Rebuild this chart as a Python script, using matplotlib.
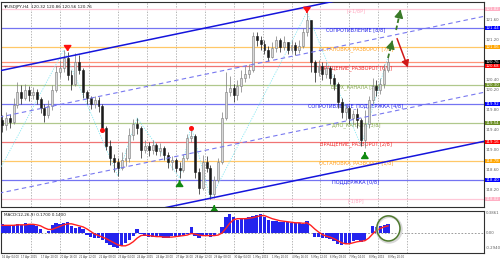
import matplotlib
matplotlib.use('Agg')
import matplotlib.pyplot as plt
from matplotlib.patches import Rectangle, Ellipse
import matplotlib.transforms as mtransforms
import numpy as np

plt.rcParams['font.family'] = ['Liberation Sans Narrow', 'DejaVu Sans']

# ---- data (H4 bars) ----
title_text = '\u25bcUSDJPY,H4  120.32 120.86 120.56 120.76'
macd_text = 'MACD(12,26,9) 0.1700 0.1400'

open0 = 119.60
closes = [119.50, 119.64, 119.56, 119.90, 120.16, 120.04, 120.20, 120.10, 120.16, 120.02,
          119.84, 119.70, 119.88, 120.20, 120.56, 120.64, 120.84, 120.50, 120.32, 120.76,
          120.60, 120.16, 120.04, 119.92, 120.00, 119.88, 119.44, 119.08, 118.84, 118.76,
          118.64, 118.80, 118.84, 119.30, 119.52, 119.44, 119.00, 119.08, 119.00, 119.10,
          118.98, 119.04, 118.90, 118.76, 118.80, 118.64, 118.60, 118.84, 119.24, 119.28,
          118.56, 118.24, 118.76, 118.64, 118.12, 118.40, 118.76, 119.64, 120.16, 120.24,
          120.10, 120.28, 120.44, 120.52, 120.60, 121.28, 121.20, 121.12, 121.00, 120.86,
          121.04, 121.20, 121.06, 121.16, 121.00, 121.10, 121.00, 121.08, 121.36, 121.60,
          120.76, 120.56, 120.68, 120.52, 120.64, 120.44, 120.32, 119.96, 119.76, 119.84,
          119.64, 119.72, 119.60, 119.20, 119.52, 120.00, 120.28, 120.20, 120.32, 120.60,
          120.76]
highs = [119.70, 119.76, 119.72, 120.04, 120.36, 120.30, 120.32, 120.28, 120.26, 120.22,
         120.06, 119.92, 120.00, 120.30, 120.68, 120.80, 121.00, 120.96, 120.60, 120.94,
         120.90, 120.64, 120.20, 120.08, 120.08, 120.06, 119.92, 119.48, 119.20, 118.92,
         118.84, 118.96, 119.04, 119.44, 119.62, 119.64, 119.48, 119.20, 119.16, 119.20,
         119.14, 119.14, 119.08, 118.96, 118.88, 118.84, 118.76, 118.92, 119.32, 119.48,
         119.32, 118.64, 118.90, 118.88, 118.70, 118.48, 118.84, 119.76, 120.56, 120.48,
         120.32, 120.40, 120.60, 120.68, 120.72, 121.36, 121.36, 121.28, 121.20, 121.08,
         121.16, 121.28, 121.24, 121.28, 121.16, 121.20, 121.16, 121.20, 121.44, 121.76,
         121.60, 120.80, 120.80, 120.76, 120.76, 120.68, 120.52, 120.36, 120.04, 119.92,
         119.88, 119.80, 119.84, 119.64, 119.80, 120.08, 120.44, 120.40, 120.44, 120.72,
         120.86]
lows = [119.36, 119.40, 119.44, 119.52, 119.84, 119.92, 120.00, 119.98, 120.02, 119.92,
        119.74, 119.56, 119.64, 119.80, 120.16, 120.44, 120.56, 120.40, 120.20, 120.28,
        120.52, 120.04, 119.92, 119.82, 119.84, 119.76, 119.36, 119.00, 118.70, 118.56,
        118.48, 118.60, 118.68, 118.76, 119.20, 119.32, 118.84, 118.94, 118.88, 118.92,
        118.90, 118.88, 118.80, 118.64, 118.60, 118.56, 118.44, 118.56, 118.80, 119.16,
        118.44, 118.12, 118.20, 118.56, 118.02, 118.04, 118.36, 118.72, 119.60, 120.08,
        119.96, 120.00, 120.16, 120.36, 120.44, 120.56, 121.08, 121.00, 120.92, 120.78,
        120.84, 120.96, 120.96, 121.00, 120.92, 120.94, 120.90, 120.94, 121.04, 121.28,
        120.56, 120.36, 120.48, 120.40, 120.44, 120.32, 120.20, 119.84, 119.64, 119.60,
        119.52, 119.52, 119.44, 119.08, 119.04, 119.44, 119.92, 120.08, 120.12, 120.24,
        120.56]

macd_main = [0.17, 0.15, 0.13, 0.15, 0.17, 0.15, 0.19, 0.17, 0.15, 0.13,
             0.07, 0.01, 0.03, 0.15, 0.19, 0.17, 0.19, 0.21, 0.13, 0.09,
             0.11, 0.07, -0.03, -0.07, -0.09, -0.09, -0.13, -0.19, -0.23, -0.27,
             -0.29, -0.25, -0.19, -0.13, -0.05, 0.07, -0.01, -0.05, -0.07, -0.07,
             -0.07, -0.07, -0.09, -0.09, -0.05, -0.05, -0.05, -0.03, -0.01, 0.11,
             -0.05, -0.09, -0.05, -0.03, -0.07, -0.05, 0.01, 0.11, 0.31, 0.37,
             0.31, 0.25, 0.27, 0.27, 0.31, 0.33, 0.35, 0.37, 0.31, 0.25,
             0.23, 0.23, 0.21, 0.21, 0.21, 0.19, 0.19, 0.19, 0.17, 0.23,
             0.01, -0.07, -0.07, -0.09, -0.09, -0.11, -0.15, -0.21, -0.23, -0.21,
             -0.19, -0.15, -0.13, -0.17, -0.13, 0.01, 0.13, 0.11, 0.13, 0.15,
             0.17]
macd_signal = [0.15, 0.15, 0.15, 0.15, 0.16, 0.16, 0.16, 0.17, 0.17, 0.16,
               0.14, 0.10, 0.07, 0.07, 0.10, 0.13, 0.16, 0.18, 0.18, 0.16,
               0.14, 0.12, 0.08, 0.03, -0.02, -0.05, -0.08, -0.11, -0.15, -0.19,
               -0.23, -0.25, -0.25, -0.22, -0.17, -0.10, -0.05, -0.04, -0.05, -0.06,
               -0.07, -0.07, -0.08, -0.08, -0.08, -0.07, -0.06, -0.05, -0.04, -0.01,
               -0.02, -0.04, -0.05, -0.05, -0.05, -0.05, -0.04, 0.00, 0.09, 0.19,
               0.26, 0.28, 0.28, 0.28, 0.29, 0.30, 0.32, 0.34, 0.34, 0.31,
               0.28, 0.26, 0.24, 0.23, 0.22, 0.21, 0.20, 0.20, 0.19, 0.20,
               0.15, 0.08, 0.02, -0.03, -0.06, -0.08, -0.11, -0.15, -0.19, -0.21,
               -0.21, -0.19, -0.17, -0.16, -0.15, -0.10, -0.02, 0.05, 0.09, 0.12,
               0.14]

# Murrey math levels
murrey_names = ['[-1/8P]', 'ПОДДЕРЖКА [0/8]', 'ОСТАНОВКА_РАЗВОРОТ [1/8]', 'ВРАЩЕНИЕ_РАЗВОРОТ [2/8]',
                'ДНО_КАНАЛА [3/8]', 'СОПРОТИВЛЕНИЕ_ПОДДЕРЖКА [4/8]', 'ВЕРХ_КАНАЛА [5/8]',
                'ВРАЩЕНИЕ_РАЗВОРОТ [6/8]', 'ОСТАНОВКА_РАЗВОРОТ [7/8]', 'СОПРОТИВЛЕНИЕ [8/8]', '[+1/8P]']
murrey_prices = [118.02, 118.40, 118.78, 119.16, 119.54, 119.92, 120.30, 120.68, 121.06, 121.44, 121.82]
bid_price = 120.76

# channel lines: (bar, price) at both ends
channel_solid = [((0, 120.594), (100, 122.200)), ((0, 117.168), (100, 118.774))]
channel_dashed = [((0, 119.668), (100, 121.274)), ((0, 118.148), (100, 119.754))]

# zigzag swing points
zz_bars = [-3, 16, 30, 35, 46, 49, 54, 79, 93, 100]
zz_prices = [118.26, 121.00, 118.48, 119.64, 118.44, 119.48, 118.02, 121.76, 119.08, 120.86]

# signal arrows (bar, tip price, tail price)
sell_arrows = [(17, 120.92, 121.06), (79, 121.74, 121.84)]
buy_arrows = [(46, 118.44, 118.32), (55, 117.94, 117.82), (94, 119.00, 118.88)]
dots = [(26, 119.40), (49, 119.44)]

# forecast arrows: start, end
green_fc = [((100.0, 120.84), (101.3, 121.24)), ((102.1, 121.40), (103.4, 121.86))]
red_fc = [((102.1, 121.28), (105.4, 120.60))]

price_ticks = [118.00, 118.20, 118.40, 118.60, 118.80, 119.00, 119.20, 119.40, 119.60, 119.80,
               120.00, 120.20, 120.40, 120.60, 120.80, 121.00, 121.20, 121.40, 121.60, 121.80]
date_bars = list(range(0, 101, 5))
date_labels = ['16 Apr 04:00', '17 Apr 2015', '17 Apr 20:00', '20 Apr 16:00', '21 Apr 12:00',
               '22 Apr 08:00', '23 Apr 04:00', '24 Apr 2015', '24 Apr 20:00', '27 Apr 16:00',
               '28 Apr 12:00', '29 Apr 08:00', '30 Apr 04:00', '1 May 2015', '1 May 20:00',
               '4 May 16:00', '5 May 12:00', '6 May 08:00', '7 May 04:00', '8 May 2015', '8 May 20:00']
grid_bars = [7.5 * k for k in range(1, 15)]

# ---- styles ----
line_cols = ['#ffc8d8', '#7474f2', '#ffc868', '#f07474', '#b0c88c', '#7474f2', '#b0c88c',
             '#f07474', '#ffc868', '#7474f2', '#ffc8d8']
text_cols = ['#ffa8c0', '#2020e8', '#ffa020', '#ee2a2a', '#88a850', '#2020e8', '#88a850',
             '#ee2a2a', '#ffa020', '#2020e8', '#ffa8c0']
box_cols = ['#ffb0c4', '#0000ff', '#ffa500', '#ff0000', '#6b8e23', '#0000ff', '#6b8e23',
            '#ff0000', '#ffa500', '#0000ff', '#ffb0c4']
lab_fs = 2.8

fig = plt.figure(figsize=(5.0, 2.59), dpi=100)
ax = fig.add_axes([1 / 500, 52 / 259, 483 / 500, 205 / 259])
axm = fig.add_axes([1 / 500, 6 / 259, 483 / 500, 42 / 259])

x0, x1 = -0.26, 124.87
for a in (ax, axm):
    a.set_xlim(x0, x1)
    a.set_xticks([])
    a.set_yticks([])
    for s in a.spines.values():
        s.set_linewidth(0.8)
        s.set_color('#303030')
    for g in grid_bars:
        a.axvline(g, color='#9a9a9a', lw=0.5, ls=(0, (2, 2)), zorder=1)
ax.set_ylim(117.86, 121.96)
axm.set_ylim(-0.39, 0.43)

# levels
for p, nm, lc, tc in zip(murrey_prices, murrey_names, line_cols, text_cols):
    ax.axhline(p, color=lc, lw=0.9, zorder=2)
    ax.text(91.7, p + 0.012, nm, color=tc, fontsize=3.6, ha='center', va='top', zorder=3)
ax.axhline(bid_price, color='#ff9478', lw=0.9, zorder=2)

# channel
xs = np.array([-2.0, 127.0])
for (b0, p0), (b1, p1) in channel_solid:
    ax.plot(xs, p0 + (p1 - p0) / (b1 - b0) * (xs - b0), color='#1414dc', lw=1.1, zorder=6)
for (b0, p0), (b1, p1) in channel_dashed:
    ax.plot(xs, p0 + (p1 - p0) / (b1 - b0) * (xs - b0), color='#7878f0', lw=0.8,
            ls=(0, (4, 3)), zorder=6)

# zigzag
ax.plot(zz_bars, zz_prices, color='#86e8f2', lw=0.6, ls=(0, (1.5, 1.5)), zorder=3)

# candles
opens = [open0] + closes[:-1]
for i in range(len(closes)):
    o, c = opens[i], closes[i]
    hi = max(highs[i], o, c)
    lo = min(lows[i], o, c)
    up = c >= o
    col = '#7a7a7a' if up else '#1a1a1a'
    ax.vlines(i, lo, hi, color=col, lw=0.5, zorder=4)
    ax.add_patch(Rectangle((i - 0.25, min(o, c)), 0.5, max(abs(c - o), 0.006),
                           facecolor='#d8d8d8' if up else '#1a1a1a', edgecolor=col, lw=0.4, zorder=5))

# signal arrows
for b, tip, tail in sell_arrows:
    ax.annotate('', xy=(b, tip), xytext=(b, tail),
                arrowprops=dict(arrowstyle='-|>,head_length=0.3,head_width=0.22', color='#ff1010', lw=1.2),
                zorder=8)
for b, tip, tail in buy_arrows:
    ax.annotate('', xy=(b, tip), xytext=(b, tail),
                arrowprops=dict(arrowstyle='-|>,head_length=0.3,head_width=0.22', color='#108a10', lw=1.2),
                zorder=8, annotation_clip=False)
ax.plot([d[0] for d in dots], [d[1] for d in dots], 'o', color='#ff1010', ms=2.6, zorder=8)

# forecast arrows
for (sb, sp), (eb, ep) in green_fc:
    ax.plot([sb, sb + 0.75 * (eb - sb)], [sp, sp + 0.75 * (ep - sp)], color='#3a7a28', lw=1.3,
            ls=(0, (2.5, 1.5)), zorder=9)
    ax.annotate('', xy=(eb, ep), xytext=(sb + 0.7 * (eb - sb), sp + 0.7 * (ep - sp)),
                arrowprops=dict(arrowstyle='-|>,head_length=0.45,head_width=0.25', color='#3a7a28', lw=1.2),
                zorder=9)
for (sb, sp), (eb, ep) in red_fc:
    ax.annotate('', xy=(eb, ep), xytext=(sb, sp),
                arrowprops=dict(arrowstyle='-|>,head_length=0.4,head_width=0.22', color='#d01818', lw=1.1),
                zorder=9)

# right price scale
rt = mtransforms.blended_transform_factory(ax.transAxes, ax.transData)
boxed = murrey_prices + [bid_price]
for t in price_ticks:
    if min(abs(t - b) for b in boxed) < 0.09:
        continue
    ax.text(1.004, t, '%.2f' % t, transform=rt, fontsize=lab_fs, color='#606060', va='center',
            ha='left', clip_on=False)
for p, bc in zip(murrey_prices, box_cols):
    ax.text(1.004, p, '%.2f' % p, transform=rt, fontsize=lab_fs, color='white', va='center', ha='left',
            clip_on=False, bbox=dict(boxstyle='square,pad=0.12', fc=bc, ec='none'))
ax.text(1.004, bid_price, '%.2f' % bid_price, transform=rt, fontsize=lab_fs, color='white', va='center',
        ha='left', clip_on=False, bbox=dict(boxstyle='square,pad=0.12', fc='#000000', ec='none'))
ax.text(0.006, 0.985, title_text, transform=ax.transAxes, fontsize=3.0, color='#202020', va='top')

# MACD
axm.bar(range(len(macd_main)), macd_main, width=0.85, color='#2424ee', zorder=3)
axm.plot(range(len(macd_signal)), macd_signal, color='#ff2020', lw=1.0, zorder=4)
axm.axhline(0, color='#8a8a8a', lw=0.6, ls=(0, (2, 2)), zorder=2)
axm.add_patch(Ellipse((100.3, 0.07), 6.3, 0.5, fill=False, ec='#d8d8d8', lw=2.0, zorder=5))
axm.add_patch(Ellipse((100.1, 0.09), 6.0, 0.49, fill=False, ec='#4f7a2e', lw=1.1, zorder=6))
axm.text(0.006, 0.96, macd_text, transform=axm.transAxes, fontsize=3.0, color='#202020', va='top')
rtm = mtransforms.blended_transform_factory(axm.transAxes, axm.transData)
for v, s in [(0.386, '0.3861'), (0.0, '0.00'), (-0.294, '-0.2940')]:
    axm.text(1.004, v, s, transform=rtm, fontsize=lab_fs, color='#606060', va='center', ha='left',
             clip_on=False)

# date labels
bt = mtransforms.blended_transform_factory(axm.transData, axm.transAxes)
for b, lab in zip(date_bars, date_labels):
    axm.text(b, -0.04, lab, transform=bt, fontsize=1.9, color='#404040', va='top', ha='left',
             clip_on=False)

fig.savefig('out.png', dpi=100)
